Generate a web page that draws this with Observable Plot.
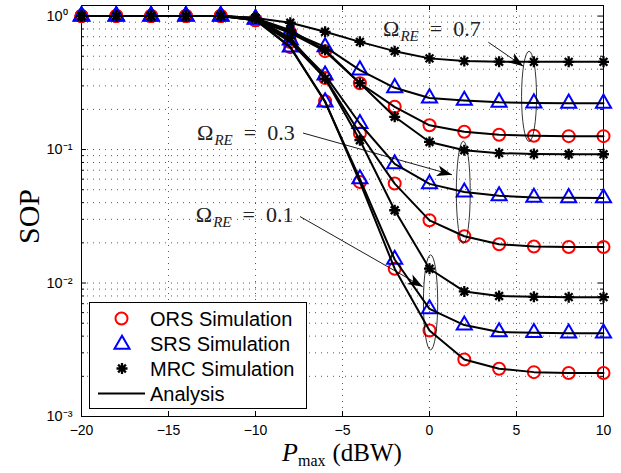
<!DOCTYPE html>
<html><head><meta charset="utf-8">
<script src="https://cdn.jsdelivr.net/npm/d3@7"></script>
<script src="https://cdn.jsdelivr.net/npm/@observablehq/plot@0.6"></script>
<style>body{margin:0;background:#fff} #chart svg{display:block}</style>
</head><body><div id="chart"></div>
<script>
// ---- data ----
const pmax = [-20,-18,-16,-14,-12,-10,-8,-6,-4,-2,0,2,4,6,8,10];
const ors07 = [1,1,1,1,1,0.93,0.75,0.546,0.314,0.209,0.152,0.136,0.129,0.127,0.126,0.126];
const srs07 = [1,1,1,1,1,0.95,0.76,0.588,0.394,0.29,0.243,0.233,0.226,0.223,0.222,0.222];
const mrc07 = [1,1,1,1,1,0.966,0.891,0.762,0.641,0.546,0.482,0.46,0.455,0.454,0.454,0.454];
const ors03 = [1,1,1,1,1,0.93,0.64,0.343,0.132,0.0556,0.0295,0.0224,0.0195,0.0188,0.0186,0.0186];
const srs03 = [1,1,1,1,1,0.95,0.661,0.361,0.156,0.078,0.0553,0.048,0.045,0.0438,0.0435,0.0434];
const mrc03 = [1,1,1,1,1,0.966,0.785,0.556,0.314,0.176,0.114,0.0988,0.094,0.0925,0.0922,0.0922];
const ors01 = [1,1,1,1,1,0.93,0.585,0.23,0.0571,0.0128,0.00441,0.00267,0.00228,0.00215,0.00212,0.00212];
const srs01 = [1,1,1,1,1,0.95,0.585,0.227,0.0602,0.015,0.0064,0.00484,0.0043,0.00424,0.00421,0.00421];
const mrc01 = [1,1,1,1,1,0.966,0.684,0.34,0.1175,0.0351,0.0128,0.00865,0.008,0.00788,0.00784,0.00784];

const xTicks = [-20,-15,-10,-5,0,5,10];
const xTickLabels = ["\u221220","\u221215","\u221210","\u22125","0","5","10"];
const xGrid = [-15,-10,-5,0,5];
const yMajor = [0.001,0.01,0.1,1];
const yTickLabels = ["10\u207B\u00B3","10\u207B\u00B2","10\u207B\u00B9","10\u2070"];
const yMinor = [0.002,0.003,0.004,0.005,0.006,0.007,0.008,0.009,
                0.02,0.03,0.04,0.05,0.06,0.07,0.08,0.09,
                0.2,0.3,0.4,0.5,0.6,0.7,0.8,0.9];
const legendLabels = ["ORS Simulation","SRS Simulation","MRC Simulation","Analysis"];

// annotations (data coordinates)
const omegaValues = ["0.7","0.3","0.1"];
const omegaLabelPos = [[-2.64,0.70],[-13.33,0.1175],[-13.4,0.0286]];
const arrowFrom = [[3.41,0.631],[-7.24,0.1318],[-7.41,0.0312]];
const arrowTo = [[5.42,0.417],[1.32,0.0642],[-0.36,0.0093]];
const ellipseCenter = [[5.75,0.248],[1.97,0.0474],[0.09,0.0071]];
const ellipseHalfX = [0.43,0.40,0.41];       // dBW
const ellipseHalfDec = [0.338,0.383,0.356];  // decades

// ---- build tables ----
const groups = [
  {key:"0.7", ors:ors07, srs:srs07, mrc:mrc07},
  {key:"0.3", ors:ors03, srs:srs03, mrc:mrc03},
  {key:"0.1", ors:ors01, srs:srs01, mrc:mrc01}
];
const rows = [];
for (const g of groups) for (const s of ["ors","srs","mrc"])
  g[s].forEach((v,i)=>rows.push({x:pmax[i], y:v, scheme:s, key:g.key+s}));
const orsRows = rows.filter(d=>d.scheme==="ors");
const srsRows = rows.filter(d=>d.scheme==="srs");
const mrcRows = rows.filter(d=>d.scheme==="mrc");

const star8 = {draw(ctx, size){
  const r = Math.sqrt(size/Math.PI), d = r*Math.SQRT1_2;
  ctx.moveTo(-r,0); ctx.lineTo(r,0);
  ctx.moveTo(0,-r); ctx.lineTo(0,r);
  ctx.moveTo(-d,-d); ctx.lineTo(d,d);
  ctx.moveTo(-d,d); ctx.lineTo(d,-d);
}};

const W=621, H=473, mL=81, mR=18, mT=5, mB=57;
const pw = W-mL-mR, ph = H-mT-mB;
const sans = "'Liberation Sans', Arial, Helvetica, sans-serif";
const serif = "'Liberation Serif', 'Times New Roman', serif";

const svg = Plot.plot({
  width: W, height: H,
  marginLeft: mL, marginRight: mR, marginTop: mT, marginBottom: mB,
  style: {background:"#fff", fontFamily: sans, color:"#000"},
  x: {domain:[-20,10]},
  y: {type:"log", domain:[0.001,1.2]},
  marks: [
    Plot.ruleX(xGrid, {x:d=>d, stroke:"#5a5a5a", strokeWidth:1, strokeDasharray:"1,5"}),
    Plot.ruleY(yMinor.concat(yMajor), {y:d=>d, stroke:"#5a5a5a", strokeWidth:1, strokeDasharray:"1,5"}),
    Plot.tickY(yMajor, {y:d=>d, stroke:"#000", insetRight: pw-5}),
    Plot.tickY(yMajor, {y:d=>d, stroke:"#000", insetLeft: pw-5}),
    Plot.tickY(yMinor, {y:d=>d, stroke:"#000", insetRight: pw-3}),
    Plot.tickY(yMinor, {y:d=>d, stroke:"#000", insetLeft: pw-3}),
    Plot.tickX(xGrid, {x:d=>d, stroke:"#000", insetTop: ph-5}),
    Plot.tickX(xGrid, {x:d=>d, stroke:"#000", insetBottom: ph-5}),
    Plot.frame({stroke:"#000", strokeWidth:1}),
    Plot.axisX({ticks:xTicks, tickSize:0, tickPadding:9, fontSize:14, label:null,
      tickFormat: d => xTickLabels[xTicks.indexOf(d)]}),
    Plot.axisY({ticks:yMajor, tickSize:0, tickPadding:0, dx:-35, textAnchor:"start", fontSize:14.5, label:null,
      tickFormat: d => yTickLabels[yMajor.indexOf(d)]}),
    Plot.dot(orsRows, {x:"x", y:"y", r:6, stroke:"#ff0000", strokeWidth:2, fill:"none"}),
    Plot.dot(srsRows, {x:"x", y:"y", r:5.6, symbol:"triangle", stroke:"#0000ff", strokeWidth:2, fill:"none"}),
    Plot.dot(mrcRows, {x:"x", y:"y", r:5.5, symbol:star8, stroke:"#000", strokeWidth:2.3, fill:"none"}),
    Plot.line(rows, {x:"x", y:"y", z:"key", stroke:"#000", strokeWidth:2})
  ]
});
document.getElementById("chart").appendChild(svg);

// ---- annotations via the plot's scales ----
let sx = svg.scale("x"), sy = svg.scale("y");
const X = sx.apply ? v=>sx.apply(v) : d3.scaleLinear().domain(sx.domain).range(sx.range);
const Y = sy.apply ? v=>sy.apply(v) : d3.scaleLog().domain(sy.domain).range(sy.range);
const root = d3.select(svg);
const defs = root.append("defs");
defs.append("marker").attr("id","ahead").attr("markerUnits","userSpaceOnUse")
  .attr("markerWidth",16).attr("markerHeight",12).attr("refX",15).attr("refY",5.5)
  .attr("orient","auto").attr("overflow","visible")
  .append("path").attr("d","M0,0 L15,5.5 L0,11 L4,5.5 Z").attr("fill","#000");

const ann = root.append("g").attr("text-anchor","start");
omegaValues.forEach((val,i)=>{
  const [cx,cy] = ellipseCenter[i];
  ann.append("ellipse").attr("cx",X(cx)).attr("cy",Y(cy))
    .attr("rx",Math.abs(X(cx+ellipseHalfX[i])-X(cx)))
    .attr("ry",Math.abs(Y(cy*Math.pow(10,ellipseHalfDec[i]))-Y(cy)))
    .attr("fill","none").attr("stroke","#000").attr("stroke-width",0.8);
  ann.append("line").attr("x1",X(arrowFrom[i][0])).attr("y1",Y(arrowFrom[i][1]))
    .attr("x2",X(arrowTo[i][0])).attr("y2",Y(arrowTo[i][1]))
    .attr("stroke","#000").attr("stroke-width",0.9).attr("marker-end","url(#ahead)");
  const t = ann.append("text").attr("x",X(omegaLabelPos[i][0])).attr("y",Y(omegaLabelPos[i][1]))
    .attr("text-anchor","start")
    .attr("font-family",serif).attr("font-size",22).attr("fill","#222");
  t.append("tspan").text("\u03A9");
  t.append("tspan").attr("font-style","italic").attr("font-size",15).attr("dx",1).attr("dy",5).text("RE");
  t.append("tspan").attr("dy",-5).text("\u2002=\u2002" + val);
});

// axis titles
const xl = root.append("text").attr("x", mL+pw/2).attr("y", 461).attr("text-anchor","middle")
  .attr("font-family",serif).attr("fill","#000");
xl.append("tspan").attr("font-style","italic").attr("font-size",26).text("P");
xl.append("tspan").attr("font-size",16).attr("dy",5).text("max");
xl.append("tspan").attr("font-size",25).attr("dy",-5).attr("dx",7).text("(dBW)");

root.append("text").attr("transform",`translate(39,${mT+ph/2+6}) rotate(-90)`)
  .attr("text-anchor","middle").attr("font-family",serif).attr("font-size",30).attr("fill","#000").text("SOP");

// legend
const lg = root.append("g").attr("font-family",sans).attr("font-size",20).attr("text-anchor","start");
lg.append("rect").attr("x",89.5).attr("y",302.5).attr("width",217).attr("height",106)
  .attr("fill","#fff").attr("stroke","#000").attr("stroke-width",1);
const rowY = [318.5,343.5,368.5,393.5];
lg.append("circle").attr("cx",121.5).attr("cy",rowY[0]).attr("r",6)
  .attr("fill","none").attr("stroke","#ff0000").attr("stroke-width",2);
lg.append("path").attr("d", d3.symbol(d3.symbolTriangle, Math.PI*5.6*5.6)())
  .attr("transform",`translate(122,${rowY[1]+1})`).attr("fill","none").attr("stroke","#0000ff").attr("stroke-width",2);
lg.append("path").attr("d", d3.symbol(star8, Math.PI*5.5*5.5)())
  .attr("transform",`translate(122,${rowY[2]})`).attr("fill","none").attr("stroke","#000").attr("stroke-width",2.3);
lg.append("line").attr("x1",98).attr("x2",145).attr("y1",rowY[3]).attr("y2",rowY[3])
  .attr("stroke","#000").attr("stroke-width",2);
legendLabels.forEach((s,i)=>{
  lg.append("text").attr("x",150).attr("y",rowY[i]).attr("dy","0.35em").attr("text-anchor","start")
    .attr("fill","#000").text(s);
});
</script>
</body></html>
